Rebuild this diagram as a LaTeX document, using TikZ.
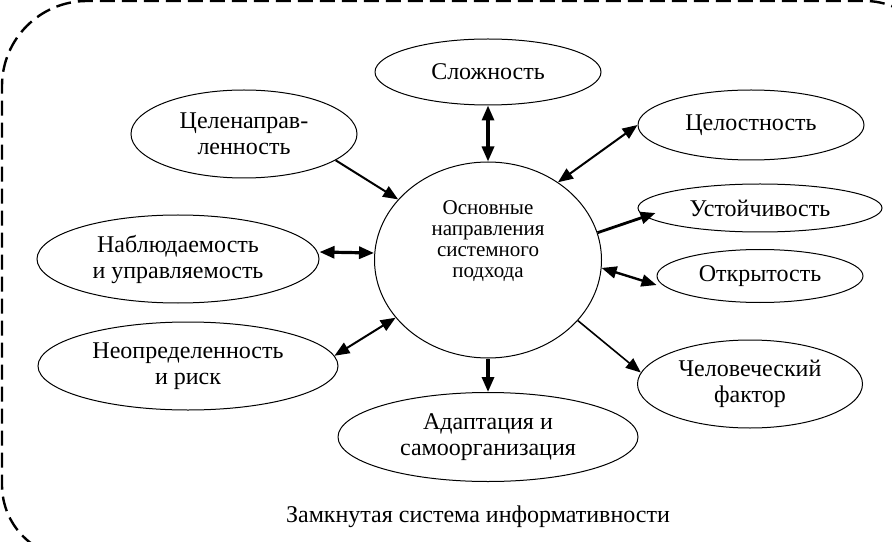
\documentclass[tikz,border=0pt]{standalone}
\usepackage{fontspec}
\setmainfont{Liberation Serif}
\usepackage{tikz}
\usetikzlibrary{arrows.meta}
\usetikzlibrary{shapes.geometric}
\tikzset{>={Triangle[length=7.5pt,width=6pt]},
  topic/.style={draw,ellipse,line width=0.5pt,inner sep=0pt,align=center,
    font=\fontsize{12}{13}\selectfont},
  hub/.style={draw,ellipse,line width=0.5pt,inner sep=0pt,
    minimum width=113.5pt,minimum height=98pt},
  hubtext/.style={align=center,inner sep=0pt,font=\fontsize{10.5}{10.5}\selectfont},
  frame/.style={line width=1.2pt,dash pattern=on 7.5pt off 3.5pt},
  link/.style={line cap=butt}}

\begin{document}
\begin{tikzpicture}[x=0.5pt,y=0.5pt]

  \useasboundingbox (0,0) rectangle (892,541);

  \draw [frame] (75,-17) arc[start angle=270,end angle=180,radius=73]
    -- (2,455) arc[start angle=180,end angle=90,radius=85]
    -- (865,540) arc[start angle=90,end angle=0,radius=73] -- (938,-17);



  \node [hub] (core) at (488,281) {};
  \node [hubtext] (coretext) at (488,300) {Основные\\направления\\системного\\подхода};

  \node [topic,minimum width=113pt,minimum height=33pt] (slozh) at (488,469) {Сложность};
  \node [topic,minimum width=113pt,minimum height=44pt] (celen) at (244,407) {Целенаправ-\\ленность};
  \node [topic,minimum width=113pt,minimum height=35pt] (celost) at (751,416) {Целостность};
  \node [topic,minimum width=122pt,minimum height=24pt] (ustoi) at (760,333) {Устойчивость};
  \node [topic,minimum width=103pt,minimum height=26.5pt] (otkr) at (760,265) {Открытость};
  \node [topic,minimum width=112.5pt,minimum height=44pt] (chel) at (750,157) {Человеческий\\фактор};
  \node [topic,minimum width=150pt,minimum height=44.5pt] (adapt) at (488,104) {Адаптация и\\самоорганизация};
  \node [topic,minimum width=150pt,minimum height=44pt] (neopr) at (188,175) {Неопределенность\\и риск};
  \node [topic,minimum width=141pt,minimum height=44pt] (nabl) at (178,282) {Наблюдаемость\\и управляемость};



  \draw [link,line width=1.6pt,<->] (slozh) -- (core);
  \draw [link,line width=1pt,->] (celen.-16) -- (core.146);
  \draw [link,line width=1pt,<->] (celost.west) -- (core.48);
  \draw [link,line width=1.4pt,->] (core.14) -- ([shift={(18,-5)}]ustoi.west);
  \draw [link,line width=1.2pt,<->] (core.-4) -- ([yshift=-4.5pt]otkr.west);
  \draw [link,line width=0.8pt,->] (core.-34) -- (chel.174);
  \draw [link,line width=1.6pt,->] (core) -- (adapt);
  \draw [link,line width=1pt,<->] (neopr.4) -- (core.212);
  \draw [link,line width=1.6pt,<->] ([yshift=3.5pt]nabl.east) -- ([yshift=3.5pt]core.west);



  \node [font=\fontsize{12}{14}\selectfont] (caption) at (478,24) {Замкнутая система информативности};

\end{tikzpicture}
\end{document}
